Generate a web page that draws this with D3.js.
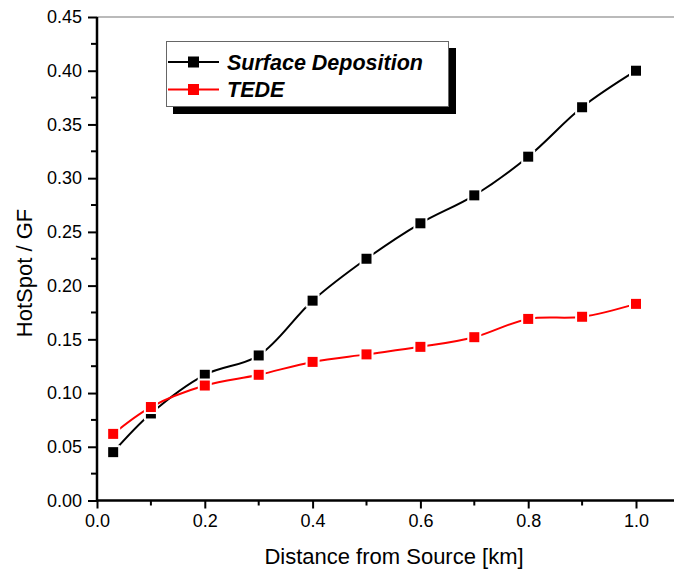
<!DOCTYPE html>
<html>
<head>
<meta charset="utf-8">
<script src="https://cdn.jsdelivr.net/npm/d3@7"></script>
<style>
  body { margin: 0; background: #fff; }
  text { font-family: Arial, "Liberation Sans", sans-serif; }
</style>
</head>
<body>
<div id="chart"></div>
<script>
// data
var distance = [0.03, 0.1, 0.2, 0.3, 0.4, 0.5, 0.6, 0.7, 0.8, 0.9, 1.0];
var surfaceDeposition = [0.045, 0.081, 0.117, 0.135, 0.186, 0.225, 0.258, 0.284, 0.320, 0.366, 0.400];
var tede = [0.062, 0.087, 0.107, 0.117, 0.129, 0.136, 0.143, 0.152, 0.169, 0.171, 0.183];
var seriesNames = ['Surface Deposition', 'TEDE'];
var seriesColors = ['#000000', '#ff0000'];
var xTicks = [0, 0.2, 0.4, 0.6, 0.8, 1.0];
var xMinor = [0.1, 0.3, 0.5, 0.7, 0.9];
var yTicks = [0, 0.05, 0.1, 0.15, 0.2, 0.25, 0.3, 0.35, 0.4, 0.45];
var yMinor = [0.025, 0.075, 0.125, 0.175, 0.225, 0.275, 0.325, 0.375, 0.425];

var width = 674,
	height = 571,
	margin = {top: 17, left: 97, bottom: 70};

var svg = d3.select('#chart')
	.append('svg')
	.attr('width', width)
	.attr('height', height);

var x = d3.scaleLinear().domain([0, 1.1]).range([margin.left, margin.left + 1.1 * 539]);
var y = d3.scaleLinear().domain([0, 0.45]).range([height - margin.bottom - 0.5, margin.top]);

// top frame line
svg.append('line')
	.attr('x1', margin.left).attr('x2', width)
	.attr('y1', y(0.45)).attr('y2', y(0.45))
	.attr('stroke', '#777').attr('stroke-width', 1.2);

// x axis
var xAxis = svg.append('g')
	.attr('transform', 'translate(0,' + y(0) + ')')
	.call(d3.axisBottom(x).tickValues(xTicks).tickFormat(d3.format('.1f')).tickSize(8).tickPadding(6));
xAxis.append('g').selectAll('line.minor').data(xMinor).enter()
	.append('line').attr('x1', x).attr('x2', x).attr('y1', 0).attr('y2', 5)
	.attr('stroke', '#000').attr('stroke-width', 2);

// y axis
var yAxis = svg.append('g')
	.attr('transform', 'translate(' + x(0) + ',0)')
	.call(d3.axisLeft(y).tickValues(yTicks).tickFormat(d3.format('.2f')).tickSize(9).tickPadding(6));
yAxis.append('g').selectAll('line.minor').data(yMinor).enter()
	.append('line').attr('y1', y).attr('y2', y).attr('x1', 0).attr('x2', -6)
	.attr('stroke', '#000').attr('stroke-width', 2);

svg.selectAll('.domain').remove();
svg.append('line')
	.attr('x1', x(0)).attr('x2', width)
	.attr('y1', y(0)).attr('y2', y(0))
	.attr('stroke', '#000').attr('stroke-width', 2.5);
svg.append('line')
	.attr('x1', x(0)).attr('x2', x(0))
	.attr('y1', y(0) + 1).attr('y2', y(0.45))
	.attr('stroke', '#000').attr('stroke-width', 2.5);

svg.selectAll('.tick line').attr('stroke-width', 2);
svg.selectAll('.tick text').attr('font-size', 18).attr('fill', '#000');

// axis titles
svg.append('text')
	.attr('x', 394).attr('y', 564)
	.attr('text-anchor', 'middle')
	.attr('font-size', 22)
	.text('Distance from Source [km]');
svg.append('text')
	.attr('transform', 'translate(32,273) rotate(-90)')
	.attr('text-anchor', 'middle')
	.attr('font-size', 22)
	.text('HotSpot / GF');

// series
var seriesValues = [surfaceDeposition, tede];
var line = d3.line()
	.x(function(d){ return x(d[0]); })
	.y(function(d){ return y(d[1]); })
	.curve(d3.curveCatmullRom.alpha(0.5));

seriesValues.forEach(function(vals, s){
	var pts = distance.map(function(d, i){ return [d, vals[i]]; });
	svg.append('path')
		.datum(pts)
		.attr('d', line)
		.attr('fill', 'none')
		.attr('stroke', seriesColors[s])
		.attr('stroke-width', 2);
	svg.append('g').selectAll('rect').data(pts).enter()
		.append('rect')
		.attr('x', function(d){ return x(d[0]) - 6; })
		.attr('y', function(d){ return y(d[1]) - 6; })
		.attr('width', 12).attr('height', 12)
		.attr('fill', seriesColors[s])
		.attr('stroke', '#fff').attr('stroke-width', 2);
});

// legend
var lg = svg.append('g');
lg.append('rect').attr('x', 173).attr('y', 48).attr('width', 283).attr('height', 66).attr('fill', '#000');
lg.append('rect').attr('x', 166.5).attr('y', 41.5).attr('width', 282).attr('height', 65)
	.attr('fill', '#fff').attr('stroke', '#666').attr('stroke-width', 1);
seriesNames.forEach(function(name, s){
	var cy = 62 + s * 27.5;
	lg.append('line').attr('x1', 168).attr('x2', 219).attr('y1', cy).attr('y2', cy)
		.attr('stroke', seriesColors[s]).attr('stroke-width', 2);
	lg.append('rect').attr('x', 188).attr('y', cy - 5.5).attr('width', 11).attr('height', 11)
		.attr('fill', seriesColors[s]);
	lg.append('text').attr('x', 227).attr('y', cy + 7.5)
		.attr('font-size', 21.5).attr('font-weight', 'bold').attr('font-style', 'italic')
		.text(name);
});
</script>
</body>
</html>
